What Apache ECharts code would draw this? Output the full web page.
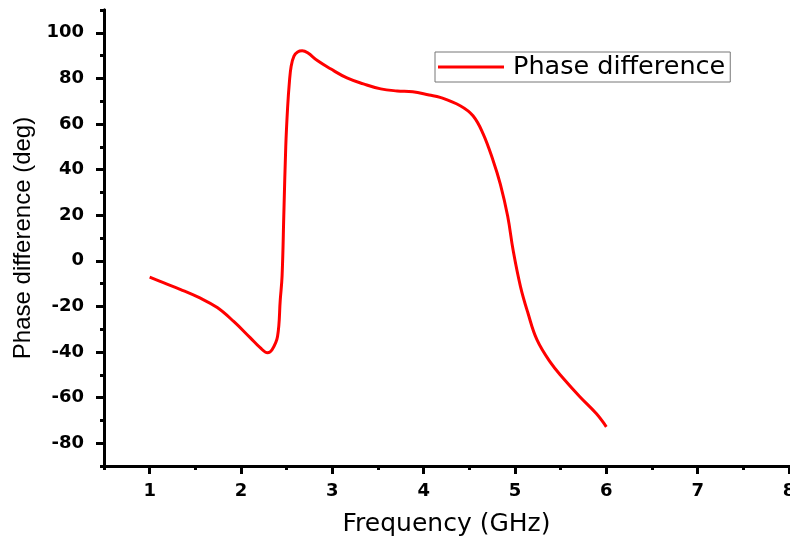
<!DOCTYPE html>
<html>
<head>
<meta charset="utf-8">
<script src="https://cdn.jsdelivr.net/npm/echarts@6/dist/echarts.min.js"></script>
<style>
  html, body { margin: 0; padding: 0; background: #fff; }
  #main { width: 790px; height: 539px; }
</style>
</head>
<body>
<div id="main"></div>
<script>
// frequency (GHz) and phase difference (deg)
var freq = [1.0, 1.15, 1.34, 1.55, 1.74, 1.92, 2.10, 2.21, 2.29, 2.34, 2.40, 2.43, 2.45, 2.47, 2.49,
  2.51, 2.53, 2.55, 2.58, 2.62, 2.67, 2.73, 2.84, 2.98, 3.16, 3.34, 3.53, 3.71, 3.88, 4.06,
  4.18, 4.40, 4.54, 4.65, 4.76, 4.84, 4.92, 4.98, 5.06, 5.14, 5.24, 5.39, 5.53, 5.71, 5.89, 6.0]
var phase = [-7.2, -9.6, -12.6, -16.3, -20.5, -26.6, -33.7, -38.1, -40.3, -39.0, -33.2, -17.0, -6.5, 22, 50,
  67, 78.5, 85.5, 89.8, 91.6, 92.1, 91.2, 87.7, 84.2, 80.2, 77.6, 75.4, 74.5, 74.1, 72.7,
  71.7, 68.0, 63.6, 55.8, 44.0, 33.5, 19.5, 4.5, -11.3, -22.7, -34.6, -44.7, -51.6, -59.6, -67.0, -72.8]

// tick labels
var xTicks = [1, 2, 3, 4, 5, 6, 7, 8]
var yTicks = [-80, -60, -40, -20, 0, 20, 40, 60, 80, 100]

var xRange = [0.5, 8]
var yRange = [-90, 110]

var myChart = echarts.init(document.getElementById('main'))

var tickLabel = {
  color: '#000',
  fontFamily: 'DejaVu Sans',
  fontWeight: 'bold',
  fontSize: 18
}
var axisLine = { show: true, onZero: false, lineStyle: { color: '#000', width: 3 } }

myChart.setOption({
  animation: false,
  backgroundColor: '#fff',
  grid: {
    left: 104,
    right: 1,
    top: 10,
    bottom: 73,
    containLabel: false,
    outerBoundsMode: 'none'
  },
  legend: {
    data: ['Phase difference'],
    left: 435,
    top: 52,
    icon: 'rect',
    padding: [2, 5, 2, 3],
    borderColor: '#777',
    borderWidth: 1,
    itemWidth: 66,
    itemHeight: 3,
    textStyle: {
      color: '#000',
      fontFamily: 'DejaVu Sans',
      fontSize: 25.5,
      padding: [0, 0, 0, 4]
    }
  },
  xAxis: [
    {
      // major ticks + labels
      type: 'value',
      min: xRange[0],
      max: xRange[1],
      interval: 0.5,
      position: 'bottom',
      name: 'Frequency (GHz)',
      nameLocation: 'middle',
      nameGap: 46,
      nameTextStyle: { color: '#000', fontFamily: 'DejaVu Sans', fontSize: 25 },
      axisLine: axisLine,
      axisTick: { show: true, inside: false, length: 8, customValues: xTicks, lineStyle: { color: '#000', width: 3 } },
      axisLabel: Object.assign({ margin: 16, customValues: xTicks }, tickLabel),
      splitLine: { show: false }
    },
    {
      // minor ticks
      type: 'value',
      min: xRange[0],
      max: xRange[1],
      interval: 0.5,
      position: 'bottom',
      axisLine: axisLine,
      axisTick: { show: true, inside: false, length: 4, lineStyle: { color: '#000', width: 3 } },
      axisLabel: { show: false },
      splitLine: { show: false }
    }
  ],
  yAxis: [
    {
      type: 'value',
      min: yRange[0],
      max: yRange[1],
      interval: 10,
      position: 'left',
      name: 'Phase difference (deg)',
      nameLocation: 'middle',
      nameGap: 63,
      nameTextStyle: { color: '#000', fontFamily: 'Liberation Sans', fontSize: 24 },
      axisLine: axisLine,
      axisTick: { show: true, inside: false, length: 8, customValues: yTicks, lineStyle: { color: '#000', width: 3 } },
      axisLabel: Object.assign({ margin: 20, customValues: yTicks }, tickLabel),
      splitLine: { show: false }
    },
    {
      // minor ticks
      type: 'value',
      min: yRange[0],
      max: yRange[1],
      interval: 10,
      position: 'left',
      axisLine: axisLine,
      axisTick: { show: true, inside: false, length: 4, lineStyle: { color: '#000', width: 3 } },
      axisLabel: { show: false },
      splitLine: { show: false }
    }
  ],
  series: [
    {
      name: 'Phase difference',
      type: 'line',
      xAxisIndex: 0,
      yAxisIndex: 0,
      symbol: 'none',
      smooth: 0.4,
      lineStyle: { color: '#ff0000', width: 3 },
      itemStyle: { color: '#ff0000' },
      data: freq.map(function (f, i) { return [f, phase[i]] })
    }
  ]
})
</script>
</body>
</html>
